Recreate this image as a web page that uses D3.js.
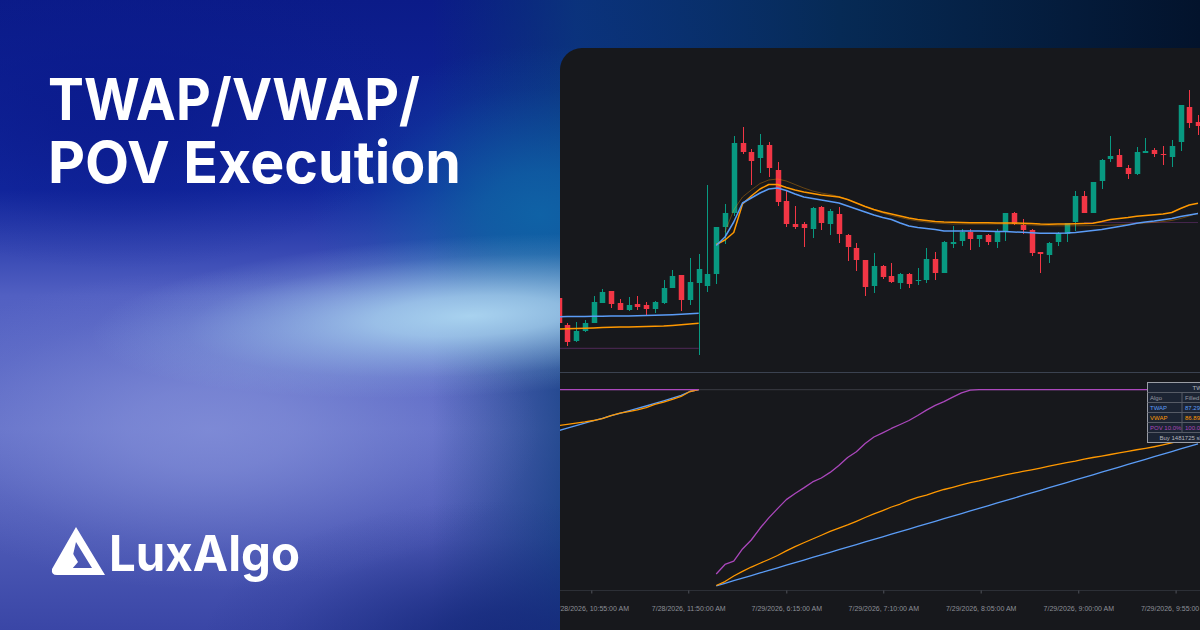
<!DOCTYPE html>
<html>
<head>
<meta charset="UTF-8">
<title>TWAP/VWAP/POV Execution</title>
<script src="https://cdn.jsdelivr.net/npm/d3@7"></script>
<style>
  body { margin: 0; background: #0a2070; }
  svg { display: block; }
</style>
</head>
<body>
<div id="chart"></div>
<script>
// 5 minute bars, left to right (first and last are cut by the panel edge)
const opens = [106.2,103.5,101.9,102.9,103.7,105.7,106.9,105.7,105.0,105.6,
  105.5,105.1,105.7,107.2,108.5,106.0,107.7,107.4,108.6,113.3,
  114.7,121.7,120.8,120.2,121.5,119.0,115.9,113.6,113.6,113.1,
  115.3,113.6,114.6,112.5,111.2,110.0,107.4,109.4,108.4,107.7,
  108.6,107.9,108.0,110.1,108.7,111.6,111.9,112.8,112.1,112.5,
  111.8,112.8,114.7,113.5,113.0,110.8,110.5,111.8,112.6,113.8,
  116.4,114.7,117.9,120.1,120.5,119.2,118.6,120.7,121.0,120.6,
  120.3,121.8,125.3,123.8];
const highs = [106.5,103.7,103.8,104.0,106.4,107.1,106.9,106.1,106.3,106.4,
  105.8,105.9,108.0,109.0,108.5,110.2,110.6,117.5,113.3,115.6,
  122.4,123.3,121.1,122.6,121.8,119.8,116.9,115.4,113.8,115.3,
  115.4,115.1,115.3,112.6,111.7,110.0,110.7,109.5,109.7,108.7,
  108.7,109.2,111.2,110.8,111.9,113.4,113.1,113.1,112.5,112.6,
  113.1,114.7,114.8,114.1,113.1,110.8,111.8,112.8,113.7,116.9,
  116.9,117.8,120.1,122.4,121.1,119.5,121.3,122.2,121.2,121.4,
  122.0,125.5,127.0,124.5];
const lows = [103.5,101.4,101.8,102.8,103.7,105.7,105.2,105.0,104.9,105.0,
  104.5,104.7,105.6,107.2,104.9,105.5,100.5,106.8,107.6,111.6,
  114.4,120.6,117.5,118.7,118.3,115.4,113.3,113.1,111.3,112.2,
  113.0,112.5,111.7,109.9,108.9,106.4,106.7,108.1,107.7,107.1,
  107.2,107.5,107.7,108.0,108.7,111.2,111.4,111.0,111.3,111.5,
  111.2,111.9,113.5,112.6,110.4,108.7,109.7,111.4,111.8,112.9,
  114.7,114.7,117.1,119.8,119.3,118.1,118.5,120.7,120.3,119.5,
  119.3,120.9,123.2,122.5];
const closes = [103.7,101.8,102.9,103.7,105.8,106.8,105.6,105.0,105.5,105.3,
  105.1,105.8,107.2,108.4,106.0,107.8,109.1,108.6,113.3,114.7,
  121.7,120.8,119.9,121.5,119.2,115.8,113.6,113.3,113.2,115.2,
  113.7,114.9,112.6,111.3,110.0,107.3,109.4,108.3,107.8,108.6,
  107.6,108.0,110.1,108.7,111.8,111.8,112.8,112.1,112.5,111.8,
  112.8,114.7,113.6,113.0,110.7,110.6,111.7,112.7,113.7,116.4,
  114.7,117.8,120.0,120.4,119.3,118.6,120.8,120.9,120.6,120.5,
  121.4,125.5,123.7,123.4];

// average fill price lines on the price pane (null = no line)
const twapAvg = [104.33,104.34,104.35,104.36,104.37,104.38,104.39,104.40,104.41,104.43,
  104.45,104.47,104.50,104.53,104.57,104.62,104.67,null,
  111.45,112.3,113.8,115.7,116.2,116.7,117.1,117.2,116.95,116.6,116.3,116.15,
  116.0,115.85,115.7,115.4,115.1,114.8,114.5,114.25,114.05,113.7,
  113.4,113.25,113.15,113.05,112.9,112.9,112.9,112.9,112.9,112.88,
  112.86,112.84,112.8,112.77,112.73,112.67,112.67,112.68,112.7,112.75,
  112.85,112.95,113.05,113.2,113.35,113.5,113.67,113.8,113.9,114.02,
  114.15,114.35,114.5,114.65];
const vwapAvg = [103.10,103.12,103.15,103.18,103.21,103.24,103.27,103.29,103.31,103.33,
  103.35,103.37,103.40,103.46,103.53,103.60,103.68,null,
  111.55,112.0,112.75,115.6,116.4,117.1,117.55,117.55,117.25,117.0,116.8,116.65,
  116.5,116.4,116.3,116.05,115.7,115.35,115.05,114.8,114.6,114.4,
  114.2,114.05,113.95,113.85,113.8,113.77,113.75,113.73,113.73,113.72,
  113.71,113.7,113.7,113.67,113.64,113.6,113.58,113.59,113.6,113.62,
  113.65,113.68,113.85,114.05,114.15,114.25,114.37,114.45,114.52,114.6,
  114.75,115.15,115.5,115.67];
const marketVwap = [null,null,null,null,null,null,null,null,null,null,
  null,null,null,null,null,null,null,null,null,
  112.8,115.0,116.3,117.0,117.65,118.0,118.1,117.9,117.55,117.2,116.9,
  116.7,116.55,116.35,116.05,115.7,115.35,115.0,114.7,114.45,114.25,
  114.05,113.9,113.8,113.7,113.65,113.6,113.6,113.6,113.6,113.6,
  113.6,113.6,113.6,113.55,113.5,113.45,113.43,113.42,113.42,113.42,
  113.43,113.44,113.45,113.48,113.52,113.58,113.64,113.7,113.77,113.85,
  113.95,114.15,114.4,114.7];
const arrivalLevel = [101.17,101.17,101.17,101.17,101.17,101.17,101.17,101.17,101.17,101.17,
  101.17,101.17,101.17,101.17,101.17,101.17,101.17,null,
  null,null,null,null,null,null,null,null,null,null,null,null,
  null,null,null,null,null,null,null,null,null,null,
  null,null,null,null,null,null,null,null,null,null,
  null,null,null,null,null,null,null,null,null,null,
  113.75,113.75,113.75,113.75,113.75,113.75,113.75,113.75,113.75,113.75,
  113.75,113.75,113.75,113.75];

// filled % per algo on the lower pane
const twapFill = [79.4,80.7,81.9,83.2,84.5,85.6,86.9,88.1,89.3,90.6,
  91.8,93.1,94.4,95.7,97.1,99.1,100,null,
  1.3,2.6,3.9,5.2,6.5,7.8,9.1,10.4,11.7,13.0,14.3,15.6,
  16.9,18.2,19.5,20.8,22.1,23.4,24.7,26.0,27.3,28.6,
  29.9,31.2,32.5,33.8,35.1,36.4,37.7,39.0,40.3,41.6,
  42.9,44.2,45.5,46.8,48.1,49.4,50.7,52.0,53.3,54.6,
  55.9,57.2,58.5,59.8,61.1,62.4,63.7,65.0,66.3,67.6,
  68.9,70.2,71.5,72.8];
const vwapFill = [82.0,82.6,83.2,83.8,84.5,85.5,87.0,88.2,89.0,89.8,
  91.0,92.6,93.8,95.1,96.6,99.1,100,null,
  1.5,3.5,6.3,8.6,10.8,12.7,14.6,16.6,18.9,21.1,23.0,24.9,
  26.8,28.7,30.4,32.0,33.8,35.7,37.5,39.2,41.0,42.5,
  44.3,45.8,47.0,48.5,49.8,50.9,52.1,53.2,54.1,55.2,
  56.2,57.1,58.0,58.9,59.7,60.6,61.5,62.4,63.3,64.1,
  65.1,65.9,66.6,67.4,68.2,69.0,69.8,70.5,71.3,72.2,
  73.2,74.4,75.7,76.6];
const povFill = [100,100,100,100,100,100,100,100,100,100,
  100,100,100,100,100,100,100,null,
  7.3,12.1,13.8,19.9,24.4,30.3,35.5,40.2,44.7,47.8,50.6,53.6,
  55.6,58.4,61.9,65.9,68.8,72.9,76.2,78.3,80.5,82.5,
  84.5,87.0,89.7,92.1,94.0,96.3,98.4,99.8,100,100,
  100,100,100,100,100,100,100,100,100,100,
  100,100,100,100,100,100,100,100,100,100,
  100,100,100,100];

// time axis
const tickBars = [3.74, 14.81, 26.0, 37.07, 48.19, 59.33, 70.44];
const tickLabels = ["7/28/2026, 10:55:00 AM", "7/28/2026, 11:50:00 AM", "7/29/2026, 6:15:00 AM",
  "7/29/2026, 7:10:00 AM", "7/29/2026, 8:05:00 AM", "7/29/2026, 9:00:00 AM", "7/29/2026, 9:55:00 AM"];

// summary table
const tableTitle = "TWAP/VWAP/POV";
const tableHead = ["Algo", "Filled"];
const tableAlgos = ["TWAP", "VWAP", "POV 10.0%"];
const tableFilled = ["87.29%", "86.89%", "100.00%"];
const tableFooter = "Buy 1481725 shares";

const width = 1200, height = 630;
const panelX = 560, panelY = 48;
const up = "#089981", down = "#f23645";
const blue = "#5b9cf6", orange = "#ff9800", purple = "#ab47bc";

const svg = d3.select("#chart").append("svg")
  .attr("width", width)
  .attr("height", height);

const defs = svg.append("defs");

function linGrad(id, x1, y1, x2, y2, stops) {
  const g = defs.append("linearGradient").attr("id", id)
    .attr("x1", x1).attr("y1", y1).attr("x2", x2).attr("y2", y2);
  stops.forEach(s => g.append("stop").attr("offset", s[0]).attr("stop-color", s[1])
    .attr("stop-opacity", s[2] == null ? 1 : s[2]));
}
// soft glow: opacity falls off smoothly to the ellipse edge
function radGrad(id, color, op) {
  const g = defs.append("radialGradient").attr("id", id);
  [[0, 1], [0.25, 0.82], [0.5, 0.48], [0.75, 0.16], [1, 0]].forEach(s =>
    g.append("stop").attr("offset", s[0]).attr("stop-color", color).attr("stop-opacity", op * s[1]));
}

linGrad("bgV", 0, 0, 0, 1, [["0%", "#0b1b88"], ["30%", "#12279e"], ["47%", "#5260c2"],
  ["68%", "#6370c8"], ["100%", "#3a46a6"]]);
linGrad("bgH", 0, 0, 1, 0, [["0%", "#093670", 0], ["36%", "#093670", 0], ["48%", "#0a3a78", 0.75],
  ["70%", "#062a55", 1], ["100%", "#03132c", 1]]);
radGrad("gTeal", "#0f62a6", 1);
radGrad("gStreak", "#a8d2ef", 1);
radGrad("gLav", "#8692da", 0.75);
radGrad("gDeep", "#0a1a8c", 0.8);
radGrad("gBottom", "#14287a", 0.9);

// background
svg.append("rect").attr("width", width).attr("height", height).attr("fill", "url(#bgV)");
svg.append("rect").attr("width", width).attr("height", height).attr("fill", "url(#bgH)");
svg.append("ellipse").attr("cx", 540).attr("cy", 215).attr("rx", 230).attr("ry", 170)
  .attr("fill", "url(#gTeal)");
svg.append("ellipse").attr("cx", 210).attr("cy", 430).attr("rx", 330).attr("ry", 160)
  .attr("fill", "url(#gLav)");
svg.append("ellipse").attr("cx", 120).attr("cy", 100).attr("rx", 300).attr("ry", 170)
  .attr("fill", "url(#gDeep)");
svg.append("ellipse").attr("cx", 500).attr("cy", 650).attr("rx", 300).attr("ry", 150)
  .attr("fill", "url(#gBottom)");
svg.append("ellipse").attr("cx", 470).attr("cy", 316).attr("rx", 380).attr("ry", 80)
  .attr("transform", "rotate(-3 470 316)")
  .attr("fill", "url(#gStreak)");

// title
const title = svg.append("g")
  .attr("fill", "#fff")
  .attr("font-family", "Inter, sans-serif")
  .attr("font-weight", 700)
  .attr("font-size", 58);
title.append("text").attr("x", 48).attr("y", 120)
  .attr("textLength", 372).attr("lengthAdjust", "spacingAndGlyphs").text("TWAP/VWAP/");
title.append("text").attr("x", 48).attr("y", 183)
  .attr("textLength", 413).attr("lengthAdjust", "spacingAndGlyphs").text("POV Execution");

// logo
const logo = svg.append("g").attr("transform", "translate(50,527)");
logo.append("path")
  .attr("d", "M26,0 L55,48 L7,48 Q1,48 2,42 Z M26,15 L42,41 L20,41 Z")
  .attr("fill-rule", "evenodd").attr("fill", "#fff");
logo.append("path").attr("d", "M12,42 L22,25 L28,35 L22,42 Z").attr("fill", "#fff");
svg.append("text").attr("x", 109).attr("y", 571)
  .attr("fill", "#fff")
  .attr("font-family", "Inter, sans-serif")
  .attr("font-weight", 700)
  .attr("font-size", 50)
  .attr("textLength", 191).attr("lengthAdjust", "spacingAndGlyphs")
  .text("LuxAlgo");

// chart panel
defs.append("clipPath").attr("id", "panelClip")
  .append("rect").attr("x", panelX).attr("y", panelY)
  .attr("width", 700).attr("height", 650).attr("rx", 22);
svg.append("rect").attr("x", panelX).attr("y", panelY)
  .attr("width", 700).attr("height", 650).attr("rx", 22)
  .attr("fill", "#17181c");
const chart = svg.append("g").attr("clip-path", "url(#panelClip)");

const x = d3.scaleLinear().domain([0, 73]).range([558.54, 1198.02]);
const y = d3.scaleLinear().domain([98.8, 131.2]).range([372, 48]);
const yPct = d3.scaleLinear().domain([0, 100]).range([588.5, 389.7]);

// pane borders
chart.append("line").attr("x1", panelX).attr("x2", width).attr("y1", 372.5).attr("y2", 372.5)
  .attr("stroke", "#3b4250");
chart.append("line").attr("x1", panelX).attr("x2", width).attr("y1", yPct(100)).attr("y2", yPct(100))
  .attr("stroke", "#3a3c43");

// candles
const bars = d3.range(opens.length);
chart.append("g").selectAll("line").data(bars).join("line")
  .attr("x1", i => Math.round(x(i)) + 0.5)
  .attr("x2", i => Math.round(x(i)) + 0.5)
  .attr("y1", i => y(highs[i]))
  .attr("y2", i => y(lows[i]))
  .attr("stroke", i => closes[i] >= opens[i] ? up : down)
  .attr("stroke-width", 1);
chart.append("g").selectAll("rect").data(bars).join("rect")
  .attr("x", i => Math.round(x(i)) + 0.5 - 2.75)
  .attr("width", 5.5)
  .attr("y", i => y(Math.max(opens[i], closes[i])))
  .attr("height", i => Math.max(1, Math.abs(y(opens[i]) - y(closes[i]))))
  .attr("fill", i => closes[i] >= opens[i] ? up : down);

function drawLine(values, scale, color, w, op) {
  const line = d3.line()
    .defined(d => d != null)
    .x((d, i) => x(i))
    .y(d => scale(d));
  chart.append("path")
    .datum(values)
    .attr("d", line)
    .attr("fill", "none")
    .attr("stroke", color)
    .attr("stroke-width", w)
    .attr("stroke-opacity", op)
    .attr("stroke-linejoin", "round");
}

drawLine(arrivalLevel, y, purple, 1.2, 0.3);
drawLine(marketVwap, y, orange, 1, 0.35);
drawLine(vwapAvg, y, orange, 1.5, 1);
drawLine(twapAvg, y, blue, 1.5, 1);

drawLine(twapFill, yPct, blue, 1.3, 1);
drawLine(vwapFill, yPct, orange, 1.3, 1);
drawLine(povFill, yPct, purple, 1.3, 1);

// time axis
chart.append("line").attr("x1", panelX).attr("x2", width).attr("y1", 590.5).attr("y2", 590.5)
  .attr("stroke", "#2c2f36");
const xAxis = chart.append("g")
  .attr("transform", "translate(0,590.5)")
  .call(d3.axisBottom(x).tickValues(tickBars).tickFormat((d, i) => tickLabels[i])
    .tickSize(3).tickPadding(13));
xAxis.select(".domain").remove();
xAxis.selectAll("line").attr("stroke", "#50535b");
xAxis.selectAll("text")
  .attr("fill", "#8c8f97")
  .attr("font-family", "'Liberation Sans', Arial, sans-serif")
  .attr("font-size", 7);

// summary table
const tX = 1147.5, tY = 382.5, rowH = 10, col1 = 34.5, tW = 150;
const table = chart.append("g").attr("font-family", "'Liberation Sans', Arial, sans-serif")
  .attr("font-size", 6);
table.append("rect").attr("x", tX).attr("y", tY).attr("width", tW).attr("height", rowH * 6)
  .attr("fill", "#1c2433").attr("stroke", "#9a9da5").attr("stroke-width", 1);
d3.range(1, 6).forEach(function(r) {
  table.append("line").attr("x1", tX).attr("x2", tX + tW)
    .attr("y1", tY + r * rowH).attr("y2", tY + r * rowH)
    .attr("stroke", "#565b66");
});
table.append("line").attr("x1", tX + col1).attr("x2", tX + col1)
  .attr("y1", tY + rowH).attr("y2", tY + rowH * 5).attr("stroke", "#565b66");
table.append("text").attr("x", tX + 45).attr("y", tY + 7.3)
  .attr("fill", "#b2b5be").text(tableTitle);
const rowColors = ["#9598a1", blue, orange, purple];
const firstCol = [tableHead[0]].concat(tableAlgos);
const secondCol = [tableHead[1]].concat(tableFilled);
table.selectAll("text.c1").data(firstCol).join("text").attr("class", "c1")
  .attr("x", tX + 2.5)
  .attr("y", (d, i) => tY + rowH * (i + 1) + 7.3)
  .attr("fill", (d, i) => rowColors[i])
  .text(d => d);
table.selectAll("text.c2").data(secondCol).join("text").attr("class", "c2")
  .attr("x", tX + col1 + 3)
  .attr("y", (d, i) => tY + rowH * (i + 1) + 7.3)
  .attr("fill", (d, i) => rowColors[i])
  .text(d => d);
table.append("text").attr("x", tX + 12).attr("y", tY + rowH * 5 + 7.3)
  .attr("fill", "#b2b5be").text(tableFooter);
</script>
</body>
</html>
